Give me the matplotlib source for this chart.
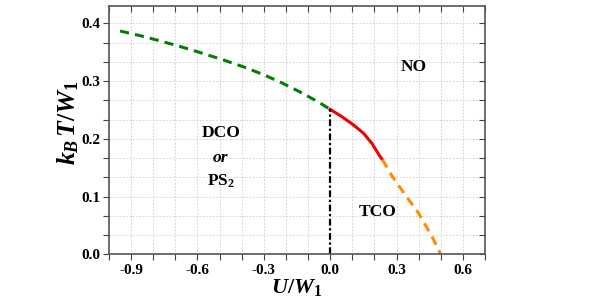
import numpy as np
import matplotlib
matplotlib.use("Agg")
import matplotlib.pyplot as plt
from matplotlib.ticker import AutoMinorLocator

# Phase boundary data
green_x = [-0.950, -0.852, -0.762, -0.671, -0.576, -0.486, -0.395, -0.305,
           -0.219, -0.133, -0.048, 0.0]
green_y = [0.3867, 0.378, 0.3688, 0.359, 0.348, 0.337, 0.325, 0.3117,
           0.297, 0.2805, 0.2625, 0.251]
red_x = [0.0, 0.053, 0.1055, 0.151, 0.189, 0.226, 0.236]
red_y = [0.251, 0.2383, 0.224, 0.2095, 0.192, 0.169, 0.164]
orange_x = [0.236, 0.279, 0.339, 0.400, 0.460, 0.500]
orange_y = [0.164, 0.136, 0.103, 0.071, 0.031, 0.0]
vert_x = [0.0, 0.0]
vert_y = [0.0, 0.251]

xticks = [-0.9, -0.6, -0.3, 0.0, 0.3, 0.6]
yticks = [0.0, 0.1, 0.2, 0.3, 0.4]

plt.rcParams['font.family'] = ['Liberation Serif', 'DejaVu Serif']
plt.rcParams['mathtext.fontset'] = 'custom'
plt.rcParams['mathtext.rm'] = 'Liberation Serif:bold'
plt.rcParams['mathtext.it'] = 'Liberation Serif:italic:bold'
plt.rcParams['mathtext.bf'] = 'Liberation Serif:bold'

fig = plt.figure(figsize=(6.06, 3.03), dpi=100)
ax = fig.add_axes([109/606, 1-254.3/303, (485-109)/606, (254.3-6)/303])

ax.set_xlim(-1.0, 0.7)
ax.set_ylim(0.0, 0.43)

ax.set_xticks(xticks)
ax.set_yticks(yticks)
ax.set_xticklabels([f"{t:.1f}" for t in xticks], fontweight='bold', fontsize=11)
ax.set_yticklabels([f"{t:.1f}" for t in yticks], fontweight='bold', fontsize=11)
ax.xaxis.set_minor_locator(AutoMinorLocator(3))
ax.yaxis.set_minor_locator(AutoMinorLocator(3))

ax.grid(True, which='both', linestyle=(0, (2, 2)), color='#cccccc', linewidth=0.6)
ax.set_axisbelow(True)

ax.tick_params(which='both', direction='out', top=True, right=True,
               color='#444444', width=0.8, length=4)
ax.tick_params(axis='x', pad=3)
ax.tick_params(axis='y', pad=2)
for t in ax.xaxis.get_major_ticks() + ax.xaxis.get_minor_ticks():
    t.tick2line.set_marker(3)  # inward at top
for t in ax.yaxis.get_major_ticks() + ax.yaxis.get_minor_ticks():
    t.tick2line.set_marker(0)  # inward at right

for s in ax.spines.values():
    s.set_color('#555555')
    s.set_linewidth(1.2)

ax.plot(green_x, green_y, color='#008000', linestyle=(0, (3, 2)), linewidth=2.2)
ax.plot(red_x, red_y, color='#ee0000', linestyle='-', linewidth=2.2)
ax.plot(orange_x, orange_y, color='#ff8c00', linestyle=(0, (3, 2)), linewidth=2.2)
ax.plot(vert_x, vert_y, color='black', linestyle=(0, (3, 1.2, 1, 1.2)), linewidth=1.6)

fs = 12.5
ax.text(0.38, 0.325, 'NO', fontsize=fs, fontweight='bold', ha='center', va='center')
ax.text(0.216, 0.0727, 'TCO', fontsize=fs, fontweight='bold', ha='center', va='center')
ax.text(-0.495, 0.2095, 'DCO', fontsize=fs, fontweight='bold', ha='center', va='center')
ax.text(-0.495, 0.166, 'or', fontsize=fs, fontweight='bold', style='italic', ha='center', va='center')
ax.text(-0.495, 0.126, r'PS$_\mathbf{2}$', fontsize=fs, fontweight='bold', ha='center', va='center')

ax.set_xlabel(r'$U/W_\mathbf{1}$', fontsize=16, labelpad=0)
ax.set_ylabel(r'$k_B\,T/W_\mathbf{1}$', fontsize=18.5)
ax.yaxis.set_label_coords(-0.075, 0.53)

fig.savefig('out.png', dpi=100)
